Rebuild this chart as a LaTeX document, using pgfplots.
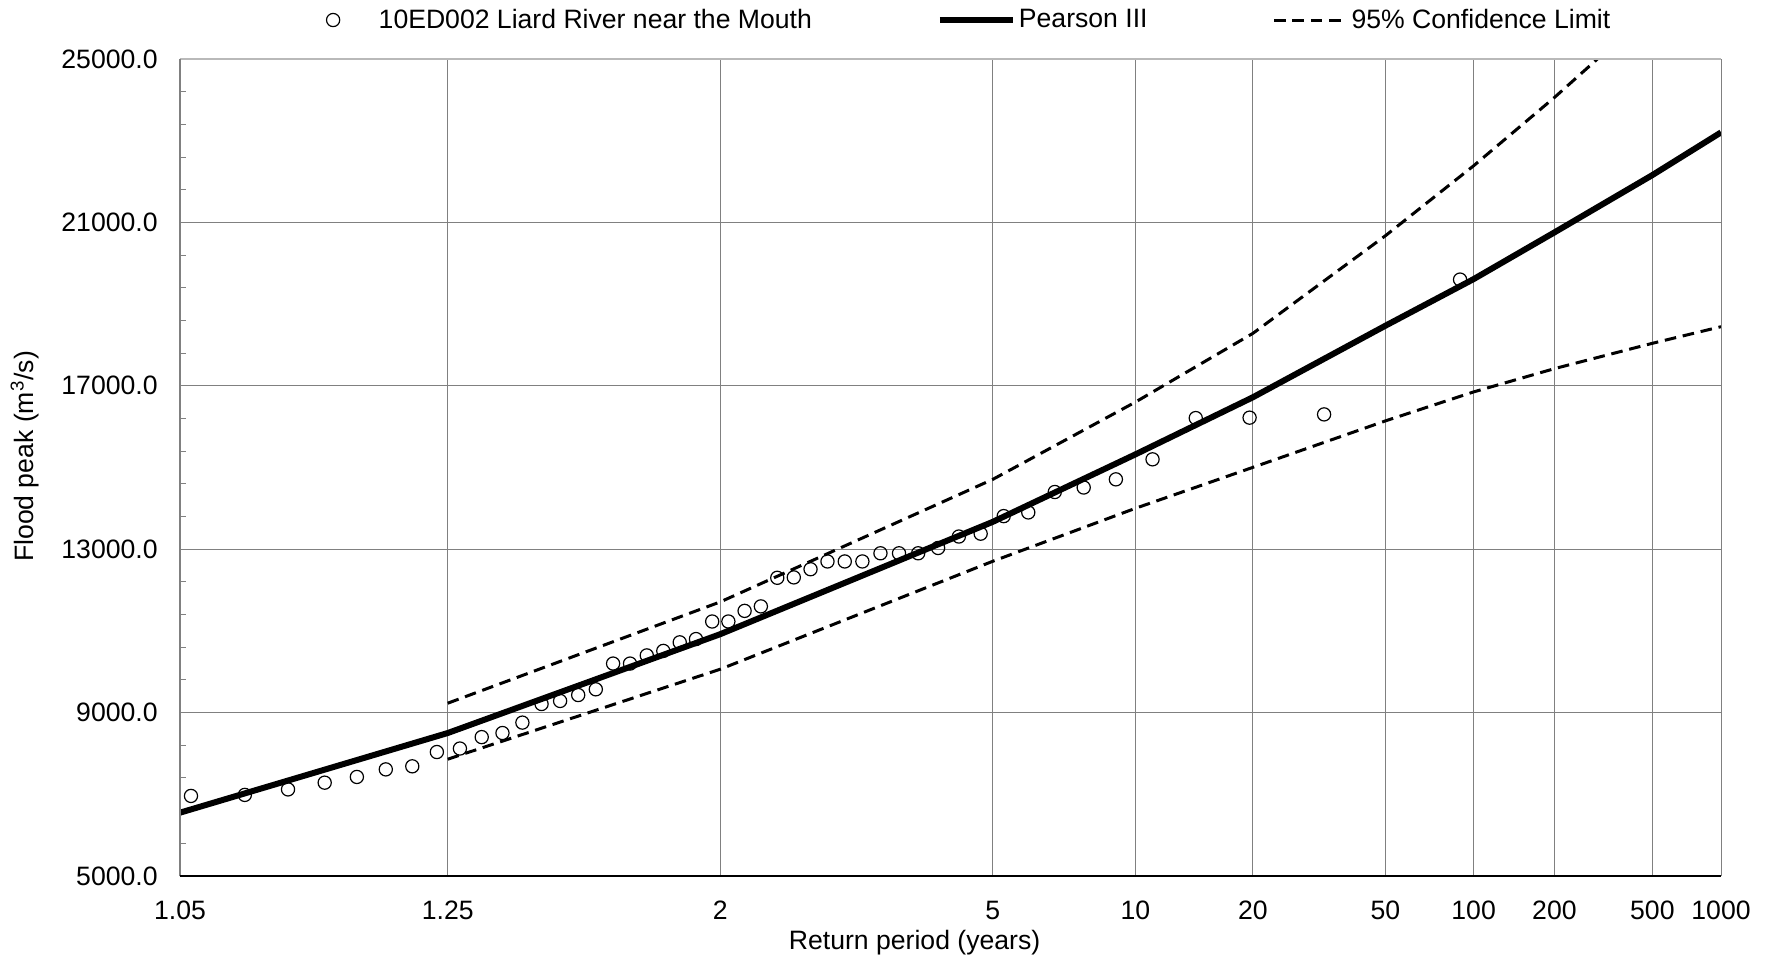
\documentclass[border=0pt]{standalone}
\usepackage{fontspec}
\setmainfont{Liberation Sans}
\usepackage{pgfplots}
\pgfplotsset{compat=1.18}

\definecolor{gridgray}{RGB}{128,128,128}
\definecolor{framegray}{RGB}{185,185,185}

% legend images: a single mark in a fixed-width cell, or a short line segment
\pgfplotsset{
  markentry/.style={legend image code/.code={
    \path (0bp,0bp) (36.5bp,0bp);
    \draw[##1] plot coordinates {(15.5bp,0bp)};}},
  lineentry/.style={legend image code/.code={\draw[##1] (0bp,0bp) -- (36.5bp,0bp);}},
}

% x is the standard normal variate of the non-exceedance probability 1-1/T,
% so the return periods sit on a normal probability scale.
\begin{document}
\begin{tikzpicture}
\useasboundingbox (-90bp,-43.5bp) rectangle (792.5bp,438bp);
\begin{axis}[
  scale only axis, width=770.5bp, height=408.5bp,
  xmin=-1.6684, xmax=3.0902, ymin=5000, ymax=25000,
  xtick={-1.6684,-0.8416,0,0.8416,1.2816,1.6449,2.0537,2.3263,2.5758,2.8782,3.0902},
  xticklabels={1.05,1.25,2,5,10,20,50,100,200,500,1000},
  ytick={5000,9000,13000,17000,21000,25000},
  yticklabels={5000.0,9000.0,13000.0,17000.0,21000.0,25000.0},
  scaled y ticks=false,
  minor y tick num=4,
  grid=major,
  major grid style={gridgray, line width=0.5bp},
  major tick length=0pt,
  minor tick length=3bp,
  minor tick style={gridgray, line width=0.5bp},
  tick align=inside,
  ytick pos=left,
  xtick pos=bottom,
  axis line style={draw=none},
  font=\fontsize{13.3bp}{16bp}\selectfont,
  xticklabel style={anchor=north, inner sep=0pt, yshift=-12.3bp},
  yticklabel style={anchor=east, inner sep=0pt, xshift=-11bp},
  xlabel={Return period (years)},
  ylabel={Flood peak (m\textsuperscript{3}/s)},
  xlabel style={at={(axis description cs:0.4767,-0.082)}, anchor=center},
  ylabel style={at={(axis description cs:-0.1006,0.5135)}, anchor=center},
  legend columns=3,
  legend style={draw=none, fill=none,
    at={(axis description cs:0.5045,1.0477)}, anchor=center,
    /tikz/every even column/.append style={column sep=61bp},
    nodes={inner xsep=1.5bp, inner ysep=0.5bp}},
  lineentry,
  after end axis/.code={
    \draw[framegray, line width=0.6bp] (rel axis cs:0,1) -- (rel axis cs:1,1);
    \draw[gridgray, line width=0.5bp] (rel axis cs:1,0) -- (rel axis cs:1,1);
    \draw[gridgray, line width=0.6bp] (rel axis cs:0,0) -- (rel axis cs:0,1);
    \draw[black, line width=1bp] (rel axis cs:0,0) -- (rel axis cs:1,0);
  },
]

% annual peaks, Gringorten plotting positions (n = 50)
\addplot[only marks, mark=o, mark size=3.3bp, line width=0.6bp, black, markentry]
  table {
z Q
2.2844 19600
1.8645 16300
1.6345 16220
1.4682 16210
1.3348 15200
1.2216 14710
1.1222 14510
1.0329 14400
0.9511 13900
0.8752 13810
0.8040 13380
0.7367 13310
0.6726 13030
0.6111 12900
0.5519 12900
0.4946 12900
0.4388 12700
0.3844 12700
0.3310 12700
0.2787 12510
0.2270 12310
0.1760 12300
0.1253 11600
0.0751 11490
0.0250 11230
-0.0250 11230
-0.0751 10800
-0.1253 10720
-0.1760 10510
-0.2270 10400
-0.2787 10200
-0.3310 10200
-0.3844 9570
-0.4388 9430
-0.4946 9285
-0.5519 9210
-0.6111 8755
-0.6726 8500
-0.7367 8400
-0.8040 8120
-0.8752 8035
-0.9511 7685
-1.0329 7610
-1.1222 7425
-1.2216 7285
-1.3348 7120
-1.4682 6985
-1.6345 6960
};
\addlegendentry{10ED002 Liard River near the Mouth}

% fitted Pearson III quantiles
\addplot[black, line width=3bp, line join=round] coordinates {
(-1.6684,6550) (-0.8416,8500) (0,10920) (0.8416,13670) (1.2816,15320)
(1.6449,16720) (2.0537,18470) (2.3263,19612) (2.5758,20755)
(2.8782,22158) (3.0902,23203)
};
\addlegendentry{Pearson III}

% 95% confidence limits
\addplot[black, line width=1.5bp, dash pattern=on 5.8bp off 3.4bp] coordinates {
(-0.8416,9230) (0,11710) (0.8416,14710) (1.2816,16600) (1.6449,18285)
(2.0537,20672) (2.3263,22386) (2.5758,24058) (2.8782,26205)
};
\addlegendentry{95\% Confidence Limit}

\addplot[black, line width=1.5bp, dash pattern=on 5.8bp off 3.4bp, forget plot] coordinates {
(-0.8416,7860) (0,10062) (0.8416,12705) (1.2816,14000) (1.6449,15004)
(2.0537,16140) (2.3263,16850) (2.5758,17420) (2.8782,18040) (3.0902,18447)
};
\end{axis}
\end{tikzpicture}
\end{document}
